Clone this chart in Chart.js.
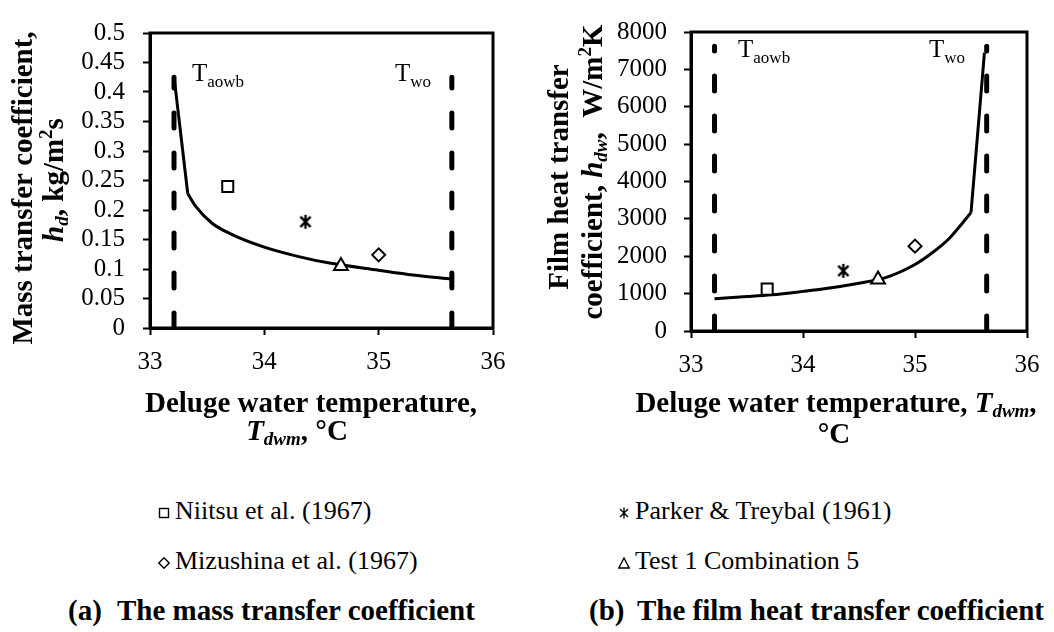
<!DOCTYPE html>
<html>
<head>
<meta charset="utf-8">
<script src="https://cdn.jsdelivr.net/npm/chart.js@4.4.0/dist/chart.umd.min.js"></script>
<style>
  body { margin: 0; background: #fff; }
  #page { position: relative; width: 1054px; height: 632px; overflow: hidden;
          font-family: 'Liberation Serif', 'Times New Roman', serif; color: #000; }
  #page canvas { position: absolute; top: 0; }
  .leg { position: absolute; font-size: 26px; line-height: 26px; white-space: nowrap; }
  .leg svg { margin-right: 5px; }
  .cap { position: absolute; font-size: 29px; line-height: 29px; font-weight: bold; white-space: nowrap; }
</style>
</head>
<body>
<div id="page">
  <canvas id="chartA" width="520" height="460" style="left:0"></canvas>
  <canvas id="chartB" width="534" height="460" style="left:520px"></canvas>
  <div id="legend"></div>
  <div class="cap" style="left:68px;top:596px">(a)</div>
  <div class="cap" style="left:117px;top:596px">The mass transfer coefficient</div>
  <div class="cap" style="left:589px;top:596px">(b)</div>
  <div class="cap" style="left:637px;top:596px">The film heat transfer coefficient</div>
</div>
<script>
/* data */
const xTicks = ['33', '34', '35', '36'];
const yTicksA = ['0', '0.05', '0.1', '0.15', '0.2', '0.25', '0.3', '0.35', '0.4', '0.45', '0.5'];
const yTicksB = ['0', '1000', '2000', '3000', '4000', '5000', '6000', '7000', '8000'];

// model curve, mass transfer coefficient hd (kg/m2s); kinkA = index where the steep part ends
const curveAx = [33.21, 33.33, 33.40, 33.54, 33.70, 34.00, 34.30, 34.57, 35.00, 35.30, 35.64];
const curveAy = [0.426, 0.228, 0.206, 0.178, 0.160, 0.137, 0.121, 0.110, 0.098, 0.090, 0.083];
const kinkA = 1;

// model curve, film heat transfer coefficient hdw (W/m2K); kinkB = index where the steep part starts
const curveBx = [33.21, 33.50, 33.72, 34.00, 34.19, 34.50, 34.73, 35.00, 35.16, 35.31, 35.43, 35.50, 35.56, 35.62];
const curveBy = [866, 920, 968, 1060, 1130, 1280, 1420, 1780, 2107, 2490, 2912, 3167, 5300, 7450];
const kinkB = 11;

// literature / test points
const refNames = ['Niitsu et al. (1967)', 'Parker & Treybal (1961)', 'Mizushina et al. (1967)', 'Test 1 Combination 5'];
const refStyles = ['rect', 'asterisk', 'rectRot', 'triangle'];
const refX = [33.68, 34.36, 35.00, 34.67];
const refA = [0.240, 0.180, 0.124, 0.105];
const refB = [1120, 1610, 2270, 1380];

// boundary temperatures (dashed lines)
const tAowb = 33.21, tWo = 35.64;
const dashTopA = 0.425, dashTopB = 7620;

const FONT = "'Liberation Serif', 'Times New Roman', serif";
const B = `bold 29px ${FONT}`, BI = `italic bold 29px ${FONT}`;
const Bs = `bold 19px ${FONT}`, BIs = `italic bold 19px ${FONT}`;
const R = `25px ${FONT}`, Rs = `17px ${FONT}`;

Chart.defaults.font.family = FONT;
Chart.defaults.font.size = 25;
Chart.defaults.color = '#000';

function makeAsterisk(size, lw) {
  const c = document.createElement('canvas');
  c.width = c.height = size;
  const g = c.getContext('2d');
  const m = size / 2, a = size * 0.32;
  g.strokeStyle = '#000'; g.lineWidth = lw;
  g.beginPath();
  g.moveTo(m - a, m - a); g.lineTo(m + a, m + a);
  g.moveTo(m + a, m - a); g.lineTo(m - a, m + a);
  g.moveTo(m, 1); g.lineTo(m, size - 1);
  g.stroke();
  return c;
}
const asterisk = makeAsterisk(16, 2.4);

function pts(xs, ys) { return xs.map((x, i) => ({ x, y: ys[i] })); }

// draws a run of text pieces with different fonts, centred on x, optionally rotated
function drawRich(ctx, runs, x, y, angle) {
  ctx.save();
  ctx.translate(x, y);
  ctx.rotate(angle || 0);
  ctx.fillStyle = '#000';
  ctx.textBaseline = 'alphabetic';
  ctx.textAlign = 'left';
  let w = 0;
  runs.forEach(r => { ctx.font = r.f; w += ctx.measureText(r.t).width; });
  let cx = -w / 2;
  runs.forEach(r => { ctx.font = r.f; ctx.fillText(r.t, cx, r.dy || 0); cx += ctx.measureText(r.t).width; });
  ctx.restore();
}

const decor = {
  id: 'decor',
  afterDraw(chart, args, opts) {
    const { ctx, chartArea: a, scales } = chart;
    ctx.save();
    ctx.strokeStyle = '#000';
    ctx.lineWidth = 3;
    ctx.strokeRect(a.left, a.top, a.right - a.left, a.bottom - a.top);
    ctx.restore();
    opts.labels.forEach(l => {
      ctx.save();
      ctx.fillStyle = '#000';
      ctx.textAlign = 'left';
      const px = scales.x.getPixelForValue(l.x), py = scales.y.getPixelForValue(l.y);
      ctx.font = R; ctx.fillText('T', px, py);
      const w = ctx.measureText('T').width;
      ctx.font = Rs; ctx.fillText(l.sub, px + w, py + 6);
      ctx.restore();
    });
    opts.titles.forEach(t => drawRich(ctx, t.runs, t.x, t.y, t.rot ? -Math.PI / 2 : 0));
  }
};

function lineSet(data, smooth) {
  return {
    label: 'model', data, showLine: true, pointRadius: 0,
    borderColor: '#000', borderWidth: 3,
    cubicInterpolationMode: smooth ? 'monotone' : 'default', tension: 0
  };
}

function makeChart(id, ys, yTicks, yMax, yStep, steep, smooth, dashTop, o) {
  const datasets = refNames.map((name, i) => ({
    label: name,
    data: [{ x: refX[i], y: ys[i] }],
    pointStyle: refStyles[i] === 'asterisk' ? asterisk : refStyles[i],
    pointRadius: refStyles[i] === 'rect' ? 7.8 : refStyles[i] === 'triangle' ? 8 : 6.5,
    borderColor: '#000',
    backgroundColor: '#fff',
    borderWidth: 2
  }));
  datasets.push(lineSet(smooth, true), lineSet(steep, false));
  [tAowb, tWo].forEach(t => datasets.push({
    label: 'bound', data: [{ x: t, y: 0 }, { x: t, y: dashTop }], showLine: true, pointRadius: 0,
    borderColor: '#000', borderWidth: 5, borderDash: [15, 25], borderCapStyle: 'round'
  }));

  const tickFont = { family: FONT, size: 25 };
  return new Chart(document.getElementById(id), {
    type: 'scatter',
    data: { datasets },
    plugins: [decor],
    options: {
      responsive: false,
      animation: false,
      events: [],
      layout: { padding: { top: o.top, right: o.right, left: 0, bottom: 0 } },
      scales: {
        x: {
          min: 33, max: 36,
          afterFit: s => { s.height = o.xh; },
          border: { display: true, color: '#000', width: 3 },
          grid: { drawOnChartArea: false, drawTicks: true, tickLength: 7, tickWidth: 2, tickColor: '#000' },
          ticks: { stepSize: 1, autoSkip: false, maxRotation: 0, padding: 12, color: '#000', font: tickFont,
                   callback: (v, i) => xTicks[i] }
        },
        y: {
          min: 0, max: yMax,
          afterFit: s => { s.width = o.yw; },
          border: { display: true, color: '#000', width: 3 },
          grid: { drawOnChartArea: false, drawTicks: true, tickLength: 7, tickWidth: 2, tickColor: '#000' },
          ticks: { stepSize: yStep, autoSkip: false, padding: o.ypad, color: '#000', font: tickFont,
                   callback: (v, i) => yTicks[i] }
        }
      },
      plugins: {
        legend: { display: false },
        tooltip: { enabled: false },
        decor: { labels: o.labels, titles: o.titles }
      }
    }
  });
}

const allA = pts(curveAx, curveAy), allB = pts(curveBx, curveBy);

makeChart('chartA', refA, yTicksA, 0.5, 0.05, allA.slice(0, kinkA + 1), allA.slice(kinkA), dashTopA, {
  top: 18, right: 27, xh: 132, yw: 150, ypad: 18,
  labels: [{ x: 33.367, y: 0.419, sub: 'aowb' }, { x: 35.143, y: 0.419, sub: 'wo' }],
  titles: [
    { rot: true, x: 32, y: 188, runs: [{ t: 'Mass transfer coefficient,', f: B }] },
    { rot: true, x: 63, y: 180, runs: [{ t: 'h', f: BI }, { t: 'd', f: BIs, dy: 5 }, { t: ', kg/m', f: B },
                                        { t: '2', f: Bs, dy: -11 }, { t: 's', f: B }] },
    { x: 311, y: 412, runs: [{ t: 'Deluge water temperature,', f: B }] },
    { x: 297, y: 440, runs: [{ t: 'T', f: BI }, { t: 'dwm', f: BIs, dy: 5 }, { t: ', °C', f: B }] }
  ]
});

makeChart('chartB', refB, yTicksB, 8000, 1000, allB.slice(kinkB), allB.slice(0, kinkB + 1), dashTopB, {
  top: 17, right: 27, xh: 129, yw: 171, ypad: 17,
  labels: [{ x: 33.42, y: 7338, sub: 'aowb' }, { x: 35.125, y: 7338, sub: 'wo' }],
  titles: [
    { rot: true, x: 48, y: 177, runs: [{ t: 'Film heat transfer', f: B }] },
    { rot: true, x: 82, y: 172, runs: [{ t: 'coefficient, ', f: B }, { t: 'h', f: BI }, { t: 'dw', f: BIs, dy: 5 },
                                        { t: ',  W/m', f: B }, { t: '2', f: Bs, dy: -11 }, { t: 'K', f: B }] },
    { x: 316, y: 412, runs: [{ t: 'Deluge water temperature, ', f: B }, { t: 'T', f: BI },
                              { t: 'dwm', f: BIs, dy: 5 }, { t: ',', f: B }] },
    { x: 314, y: 443, runs: [{ t: '°C', f: B }] }
  ]
});

/* legend under both panels */
function symbolSvg(style) {
  const s = 'fill="none" stroke="#000" stroke-width="1.4"';
  let body = '';
  if (style === 'rect') body = `<rect x="1.5" y="1.5" width="9" height="9" ${s}/>`;
  else if (style === 'rectRot') body = `<path d="M6 0.8 L11.2 6 L6 11.2 L0.8 6 Z" ${s}/>`;
  else if (style === 'triangle') body = `<path d="M6 1 L11.2 11 L0.8 11 Z" ${s}/>`;
  else body = `<path d="M2 2 L10 10 M10 2 L2 10 M6 0.5 L6 11.5" ${s}/>`;
  return `<svg width="12" height="12" viewBox="0 0 12 12">${body}</svg>`;
}
const legPos = [[158, 498], [618, 498], [158, 548], [618, 548]];
document.getElementById('legend').innerHTML = refNames.map((n, i) =>
  `<div class="leg" style="left:${legPos[i][0]}px;top:${legPos[i][1]}px">${symbolSvg(refStyles[i])}${n.replace('&', '&amp;')}</div>`
).join('');
</script>
</body>
</html>
